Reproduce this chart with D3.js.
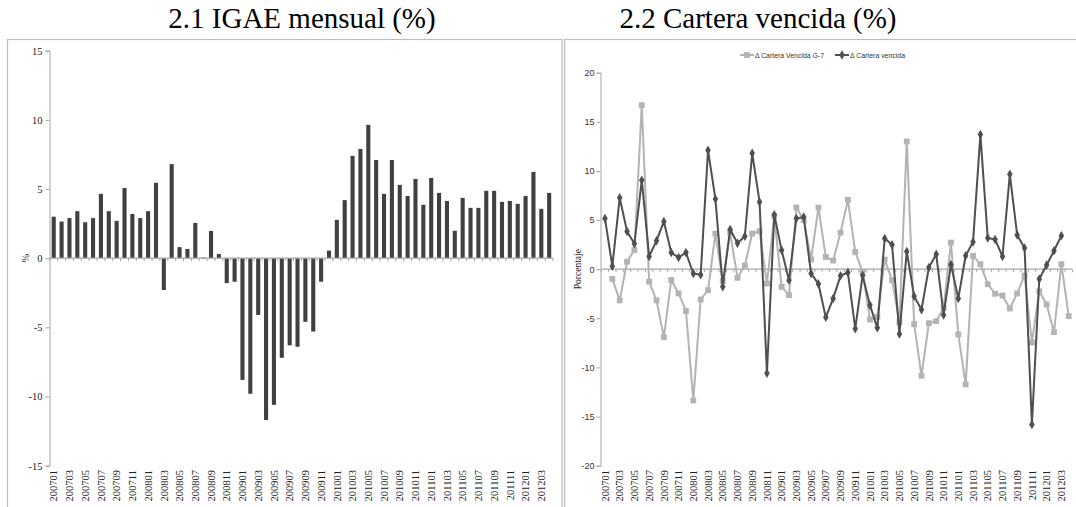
<!DOCTYPE html>
<html>
<head>
<meta charset="utf-8">
<script src="https://cdn.jsdelivr.net/npm/d3@7"></script>
<style>
  html, body { margin: 0; padding: 0; background: #fff; }
  svg { display: block; }
</style>
</head>
<body>
<svg id="chart" width="1076" height="507"></svg>
<script>
// Monthly periods, January 2007 to April 2012
const months = [
  "200701","200702","200703","200704","200705","200706","200707","200708","200709","200710","200711","200712",
  "200801","200802","200803","200804","200805","200806","200807","200808","200809","200810","200811","200812",
  "200901","200902","200903","200904","200905","200906","200907","200908","200909","200910","200911","200912",
  "201001","201002","201003","201004","201005","201006","201007","201008","201009","201010","201011","201012",
  "201101","201102","201103","201104","201105","201106","201107","201108","201109","201110","201111","201112",
  "201201","201202","201203","201204"
];

// IGAE, annual change (%)
const igae = [
  3.0, 2.65, 2.9, 3.4, 2.6, 2.9, 4.65, 3.4, 2.7, 5.08, 3.2, 2.9,
  3.4, 5.45, -2.3, 6.8, 0.8, 0.67, 2.55, 0.05, 1.97, 0.3, -1.8, -1.7,
  -8.8, -9.8, -4.1, -11.7, -10.6, -7.2, -6.3, -6.4, -4.6, -5.3, -1.7, 0.55,
  2.77, 4.2, 7.4, 7.9, 9.64, 7.1, 4.65, 7.1, 5.3, 4.5, 5.73, 3.86,
  5.8, 4.72, 4.14, 1.98, 4.36, 3.64, 3.64, 4.87, 4.87, 4.07, 4.14, 3.93,
  4.5, 6.24, 3.57, 4.72
];

// Change in past-due loan portfolio, G-7 banks (%)
const carteraG7 = [
  null, -0.98, -3.17, 0.76, 1.96, 16.7, -1.27, -3.17, -6.92, -1.1, -2.47, -4.25,
  -13.36, -3.08, -2.14, 3.63, -1.2, 3.75, -0.88, 0.39, 3.63, 3.87, -1.46, 5.4,
  -1.8, -2.64, 6.28, 5.0, 1.0, 6.27, 1.25, 0.88, 3.73, 7.05, 1.76, -0.3,
  -5.12, -4.85, 0.98, -1.12, -5.39, 13.0, -5.6, -10.85, -5.49, -5.29, -3.95, 2.71,
  -6.64, -11.73, 1.36, 0.51, -1.53, -2.5, -2.68, -4.0, -2.47, -0.64, -7.46, -2.24,
  -3.59, -6.41, 0.51, -4.78
];

// Change in past-due loan portfolio, total (%)
const carteraVencida = [
  5.15, 0.3, 7.27, 3.83, 2.6, 9.06, 1.3, 2.9, 4.85, 1.69, 1.19, 1.69,
  -0.44, -0.56, 12.1, 7.15, -1.78, 4.05, 2.65, 3.35, 11.8, 6.85, -10.6, 5.55,
  1.92, -1.12, 5.17, 5.32, -0.43, -1.5, -4.9, -2.97, -0.66, -0.34, -6.05, -0.63,
  -3.68, -5.97, 3.12, 2.5, -6.59, 1.8, -2.76, -4.12, 0.17, 1.51, -4.66, 0.47,
  -2.97, 1.37, 2.78, 13.7, 3.17, 3.03, 1.3, 9.66, 3.47, 2.17, -15.8, -1.0,
  0.42, 1.88, 3.4, null
];

const igaeTicks = [15, 10, 5, 0, -5, -10, -15];
const carteraTicks = [20, 15, 10, 5, 0, -5, -10, -15, -20];
const monthLabels = months.filter((d, i) => i % 2 === 0);
const titles = ["2.1 IGAE mensual (%)", "2.2 Cartera vencida (%)"];
const legendLabels = ["\u0394 Cartera Vencida G-7", "\u0394 Cartera vencida"];

const serif = "'Liberation Serif', 'Times New Roman', serif";
const narrow = "'Liberation Sans Narrow', 'Arial Narrow', 'Liberation Sans', sans-serif";
const plainNumber = d => String(d);

const svg = d3.select("#chart");

// Panel frames
svg.append("rect").attr("x", 7.5).attr("y", 39.5).attr("width", 554.5).attr("height", 490)
  .attr("fill", "none").attr("stroke", "#bcbcbc").attr("stroke-width", 1.2);
svg.append("rect").attr("x", 564.5).attr("y", 39.5).attr("width", 530).attr("height", 490)
  .attr("fill", "none").attr("stroke", "#bcbcbc").attr("stroke-width", 1.2);

// Titles
svg.selectAll("text.title").data(titles).join("text")
  .attr("class", "title")
  .attr("x", (d, i) => i === 0 ? 302 : 758)
  .attr("y", 28)
  .attr("text-anchor", "middle")
  .attr("font-family", serif)
  .attr("font-size", 29)
  .attr("fill", "#000")
  .text(d => d);

// ---------- Left panel: IGAE bars ----------
const xL = d3.scaleBand().domain(months).range([49.8, 553.1]).padding(0);
const yL = d3.scaleLinear().domain([-15, 15]).range([465.7, 50.7]);
const gL = svg.append("g");

// y axis
const yAxisL = gL.append("g").attr("transform", "translate(49.5,0)")
  .call(d3.axisLeft(yL).tickValues(igaeTicks).tickSize(4).tickFormat(plainNumber));
yAxisL.attr("font-family", serif);
yAxisL.select(".domain").attr("stroke", "#a6a6a6");
yAxisL.selectAll(".tick line").attr("stroke", "#a6a6a6");
yAxisL.selectAll(".tick text").attr("font-family", serif).attr("font-size", 10.5)
  .attr("fill", "#222").attr("x", -7);

gL.append("text")
  .attr("transform", `translate(25,${yL(0)}) rotate(-90)`)
  .attr("text-anchor", "middle").attr("dy", "0.35em")
  .attr("font-family", serif).attr("font-size", 10.5).attr("fill", "#222")
  .text("%");

// bars
const barFrac = 0.52;
gL.selectAll("rect.bar").data(months).join("rect")
  .attr("class", "bar")
  .attr("x", d => xL(d) + xL.bandwidth() * (1 - barFrac) / 2)
  .attr("width", xL.bandwidth() * barFrac)
  .attr("y", (d, i) => yL(Math.max(0, igae[i])))
  .attr("height", (d, i) => Math.abs(yL(igae[i]) - yL(0)))
  .attr("fill", "#404040");

// zero axis with category boundary ticks
gL.append("line")
  .attr("x1", xL.range()[0]).attr("x2", xL.range()[1])
  .attr("y1", yL(0)).attr("y2", yL(0))
  .attr("stroke", "#a6a6a6").attr("stroke-width", 1.2);
gL.selectAll("line.ctick").data(months.concat(["end"])).join("line")
  .attr("class", "ctick")
  .attr("x1", d => d === "end" ? xL.range()[1] : xL(d))
  .attr("x2", d => d === "end" ? xL.range()[1] : xL(d))
  .attr("y1", yL(0)).attr("y2", yL(0) + 3)
  .attr("stroke", "#a6a6a6");

// month labels
const xAxisL = gL.append("g").attr("transform", "translate(0,470)")
  .call(d3.axisBottom(xL).tickValues(monthLabels).tickSize(0));
xAxisL.attr("font-family", serif);
xAxisL.select(".domain").remove();
xAxisL.selectAll(".tick text")
  .attr("transform", "rotate(-90)")
  .attr("text-anchor", "end").attr("x", 0).attr("y", 0).attr("dy", "0.35em")
  .attr("font-family", serif).attr("font-size", 10.5).attr("fill", "#222");

// ---------- Right panel: past-due portfolio lines ----------
const xR = d3.scaleBand().domain(months).range([601.3, 1072.4]).padding(0);
const yR = d3.scaleLinear().domain([-20, 20]).range([465.7, 72.7]);
const gR = svg.append("g");
const cx = d => xR(d) + xR.bandwidth() / 2;

const yAxisR = gR.append("g").attr("transform", "translate(600.5,0)")
  .call(d3.axisLeft(yR).tickValues(carteraTicks).tickSize(4).tickFormat(plainNumber));
yAxisR.attr("font-family", narrow);
yAxisR.select(".domain").attr("stroke", "#a6a6a6");
yAxisR.selectAll(".tick line").attr("stroke", "#a6a6a6");
yAxisR.selectAll(".tick text").attr("font-family", narrow).attr("font-size", 9)
  .attr("fill", "#333").attr("x", -6);

gR.append("text")
  .attr("transform", `translate(578,${yR(0)}) rotate(-90)`)
  .attr("text-anchor", "middle").attr("dy", "0.35em")
  .attr("font-family", serif).attr("font-size", 9.5).attr("fill", "#222")
  .text("Porcentaje");

gR.append("line")
  .attr("x1", xR.range()[0]).attr("x2", xR.range()[1])
  .attr("y1", yR(0)).attr("y2", yR(0))
  .attr("stroke", "#a6a6a6").attr("stroke-width", 1.2);
gR.selectAll("line.ctick").data(months.concat(["end"])).join("line")
  .attr("class", "ctick")
  .attr("x1", d => d === "end" ? xR.range()[1] : xR(d))
  .attr("x2", d => d === "end" ? xR.range()[1] : xR(d))
  .attr("y1", yR(0)).attr("y2", yR(0) + 3)
  .attr("stroke", "#a6a6a6");

const xAxisR = gR.append("g").attr("transform", "translate(0,470)")
  .call(d3.axisBottom(xR).tickValues(monthLabels).tickSize(0));
xAxisR.attr("font-family", serif);
xAxisR.select(".domain").remove();
xAxisR.selectAll(".tick text")
  .attr("transform", "rotate(-90)")
  .attr("text-anchor", "end").attr("x", 0).attr("y", 0).attr("dy", "0.35em")
  .attr("font-family", serif).attr("font-size", 10.5).attr("fill", "#222");

const series = [
  { name: legendLabels[0], values: carteraG7, color: "#b3b3b3", symbol: d3.symbolSquare, size: 34 },
  { name: legendLabels[1], values: carteraVencida, color: "#4f4f4f", symbol: d3.symbolDiamond, size: 26 }
];

series.forEach(s => {
  const pts = months.map((m, i) => ({ m, v: s.values[i] })).filter(p => p.v !== null);
  const line = d3.line().x(p => cx(p.m)).y(p => yR(p.v));
  gR.append("path").datum(pts)
    .attr("d", line).attr("fill", "none")
    .attr("stroke", s.color).attr("stroke-width", 2).attr("stroke-linejoin", "round");
  gR.append("g").selectAll("path").data(pts).join("path")
    .attr("transform", p => `translate(${cx(p.m)},${yR(p.v)})`)
    .attr("d", d3.symbol(s.symbol, s.size)())
    .attr("fill", s.color);
});

// legend
const legendX = [740, 835];
const legendW = [69, 55];
series.forEach((s, i) => {
  const lg = gR.append("g").attr("transform", `translate(${legendX[i]},55)`);
  lg.append("line").attr("x1", 0).attr("x2", 14).attr("y1", 0).attr("y2", 0)
    .attr("stroke", s.color).attr("stroke-width", 2);
  lg.append("path").attr("transform", "translate(7,0)")
    .attr("d", d3.symbol(s.symbol, s.size)()).attr("fill", s.color);
  lg.append("text").attr("x", 15).attr("y", 0).attr("dy", "0.35em")
    .attr("font-family", narrow).attr("font-size", 8).attr("fill", "#333")
    .attr("textLength", legendW[i]).attr("lengthAdjust", "spacingAndGlyphs")
    .text(s.name);
});
</script>
</body>
</html>
